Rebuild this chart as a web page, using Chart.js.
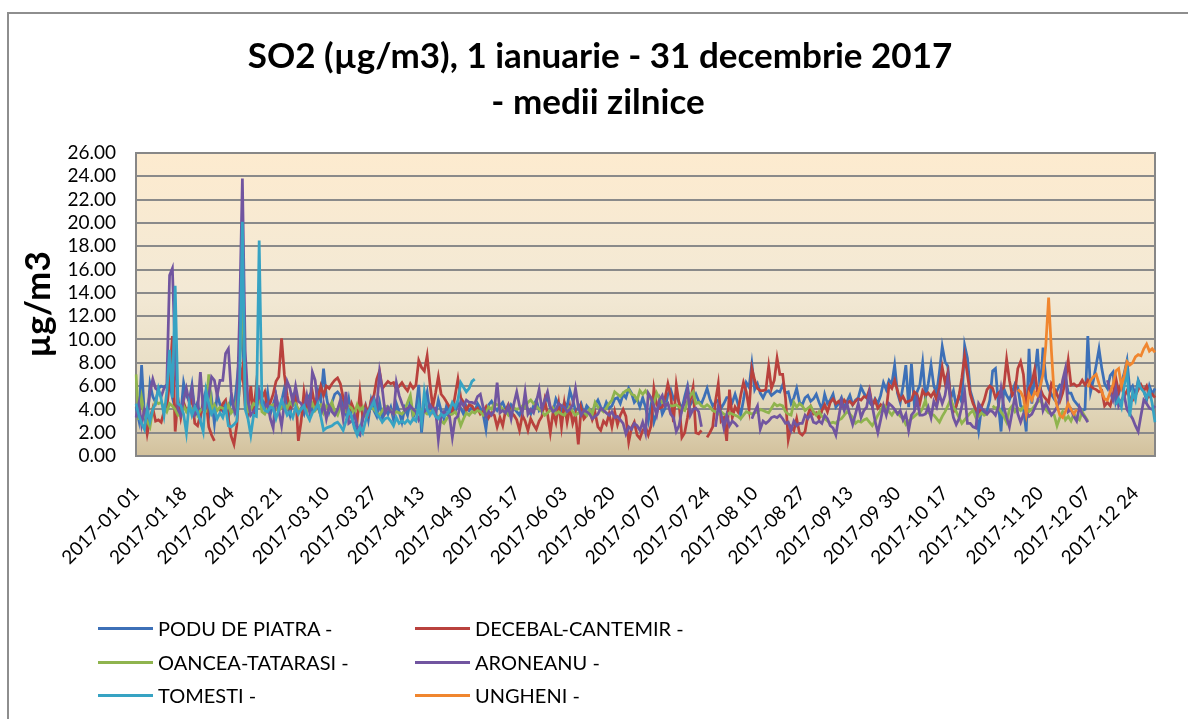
<!DOCTYPE html>
<html>
<head>
<meta charset="utf-8">
<script src="https://cdn.jsdelivr.net/npm/chart.js@4.4.1/dist/chart.umd.min.js"></script>
<style>
  html, body { margin: 0; padding: 0; background: #fff; overflow: hidden; }
  body { width: 1188px; height: 719px; position: relative; font-family: Lato, sans-serif; }
  #page { position: absolute; left: 0; top: 0; width: 1188px; height: 719px; overflow: hidden; }
  #frame { position: absolute; left: 7px; top: 12px; width: 1250px; height: 780px; border: 2px solid #8e8e8e; box-sizing: border-box; }
  #wrap { position: absolute; left: 0; top: 0; width: 1188px; height: 719px; }
  .item { position: absolute; height: 26px; line-height: 26px; display: flex; align-items: center; font-size: 20px; color: #000; white-space: nowrap; }
  .swatch { display: inline-block; width: 55px; height: 3px; margin-right: 5px; }
</style>
</head>
<body>
<div id="page">
  <div id="frame"></div>
  <div id="wrap"><canvas id="chart" width="1188" height="719"></canvas></div>
  <div id="legend"></div>
</div>
<script>
// SO2 daily means 2017 (µg/m3)
const _ = null;
const gap = n => new Array(n).fill(null);

// categories: every day of 2017, formatted like the source ("2017-01 01")
const dates = [];
for (let d = new Date(Date.UTC(2017, 0, 1)); d.getUTCFullYear() === 2017; d.setUTCDate(d.getUTCDate() + 1)) {
  const m = String(d.getUTCMonth() + 1).padStart(2, '0');
  const day = String(d.getUTCDate()).padStart(2, '0');
  dates.push(`2017-${m} ${day}`);
}
const labelEvery = 17;
const yTicks = { min: 0, max: 26, step: 2 };
const titleLines = ['SO2 (µg/m3), 1 ianuarie - 31 decembrie 2017', '- medii zilnice'];

const poduDePiatra = [
  4.2,3.1,7.8,3.5,2.9,6.2,5.1,4.6,5.8,6.0,5.9,6.1,6.3,5.0,4.1,3.8,3.5,6.3,5.2,4.7,6.1,3.9,4.6,3.2,4.8,5.6,3.4,4.9,2.8,5.3,4.4,
  3.9,4.5,3.2,5.1,4.0,6.2,8.8,10.5,5.2,3.4,4.1,4.6,3.8,5.6,4.9,4.2,5.5,3.6,4.4,5.2,3.9,4.7,5.8,4.3,3.5,5.1,4.6,3.7,
  4.1,3.6,4.8,5.2,3.9,4.4,5.6,4.7,7.5,5.1,3.8,4.6,5.3,5.5,5.2,4.2,3.6,4.9,3.3,2.7,2.0,1.8,3.5,4.3,3.1,4.8,3.9,3.4,4.6,3.2,4.0,
  3.6,4.2,3.1,4.5,3.8,2.9,4.1,3.5,4.7,3.3,4.0,6.1,2.0,4.6,5.5,3.7,4.3,3.5,4.8,3.9,3.2,4.4,3.6,4.0,3.8,4.5,4.1,3.6,4.3,3.9,
  4.2,3.8,4.5,4.1,3.6,2.3,4.4,4.7,4.2,3.9,4.3,4.6,4.0,3.7,4.4,4.1,3.8,3.5,4.2,4.5,4.0,3.6,4.3,4.8,3.9,4.2,4.6,5.0,4.1,3.8,4.9,
  4.4,3.8,4.6,4.2,5.6,4.8,3.9,4.1,4.5,3.6,4.3,4.0,3.7,4.4,4.8,4.2,3.9,4.6,4.1,4.3,4.9,5.0,4.5,5.3,5.0,5.8,5.4,4.6,4.9,4.2,
  5.0,4.2,3.0,4.4,2.9,3.7,4.8,3.6,4.1,5.3,5.7,4.9,5.2,4.6,4.0,5.1,6.0,4.4,4.8,5.3,4.7,4.5,5.1,5.8,4.9,4.3,4.6,4.8,4.1,4.5,5.0,
  5.0,4.6,5.3,4.5,3.5,4.8,6.3,5.9,7.9,5.7,6.2,5.4,5.0,5.5,5.6,5.2,5.4,5.6,5.5,6.1,5.4,5.5,4.5,5.0,5.8,4.6,4.4,5.0,5.2,4.7,4.9,
  5.3,4.6,4.0,5.3,4.5,4.8,5.3,4.2,4.5,5.0,4.1,4.7,5.2,4.4,4.8,5.0,5.9,5.4,5.0,4.6,4.3,4.9,4.5,5.2,6.3,5.7,6.5,6.2,7.8,5.4,
  4.6,6.0,7.8,4.2,7.9,4.5,5.5,6.1,8.0,5.0,6.2,7.8,6.0,5.4,7.2,9.4,8.1,7.7,4.9,5.6,4.3,5.2,4.6,9.5,8.4,5.6,4.8,3.8,2.2,4.1,3.6,
  3.9,4.8,7.3,7.5,4.6,2.1,5.8,5.2,4.8,5.5,6.2,5.9,4.3,4.1,2.1,9.2,4.5,6.8,9.2,5.4,9.3,6.6,5.8,5.3,4.9,5.6,6.1,6.0,6.8,5.4,
  5.4,4.8,4.5,4.2,3.9,4.0,10.3,5.5,6.5,7.8,9.2,7.5,6.2,5.8,6.9,7.2,4.6,5.3,6.3,7.1,8.2,5.6,6.0,5.2,6.5,5.9,5.6,4.8,6.0,5.3,5.8
];

const decebalCantemir = [
  4.3,3.9,4.5,3.6,1.9,3.2,4.1,3.0,3.1,2.9,3.8,4.0,6.5,10.3,2.1,4.9,3.3,4.6,3.9,4.2,5.1,2.8,2.6,3.5,4.4,4.9,2.5,1.8,1.3,_,3.8,
  4.5,4.8,3.2,1.7,1.0,2.6,6.2,7.5,4.3,3.5,6.0,3.6,6.1,4.8,5.0,5.5,4.0,4.6,5.3,6.4,6.8,10.1,7.0,5.2,4.0,4.7,5.5,1.3,
  3.0,5.5,4.0,4.5,5.5,4.2,5.0,6.0,5.2,6.0,5.8,6.2,6.5,6.7,6.2,5.0,4.1,3.5,4.5,3.9,3.0,5.5,3.3,4.3,3.6,4.8,5.2,6.6,7.3,5.8,6.1,
  6.4,6.2,6.3,5.7,6.0,6.3,5.9,5.6,6.2,5.8,6.1,8.2,7.6,7.3,8.6,6.2,4.2,5.4,6.8,5.3,5.0,4.6,4.2,3.8,5.2,6.6,5.0,4.6,3.9,4.4,
  4.3,3.9,4.1,3.6,3.8,4.2,3.3,3.7,3.5,2.5,3.3,2.6,3.9,4.4,3.7,3.5,3.1,2.2,3.5,3.0,2.2,3.2,2.7,2.3,3.0,3.4,4.8,3.6,2.0,3.8,2.9,
  4.5,2.5,4.5,2.9,4.2,2.8,3.6,1.0,4.1,3.2,3.5,3.9,3.1,3.7,2.5,2.2,3.0,2.7,3.6,2.5,3.8,2.7,3.5,4.0,3.4,1.2,2.4,2.9,1.8,1.5,
  2.2,2.5,1.8,2.6,5.8,4.4,4.1,4.2,5.0,6.2,5.2,2.9,6.1,4.5,1.6,2.0,3.3,4.8,5.9,2.0,1.9,2.2,_,1.6,2.0,2.5,4.7,6.2,3.0,3.3,1.3,
  5.7,3.3,4.2,3.8,5.2,6.3,5.5,4.0,7.5,6.5,5.8,5.6,5.6,5.7,7.7,5.8,6.5,8.4,7.0,7.0,5.0,1.4,2.5,2.2,3.2,2.0,1.8,2.1,3.5,4.2,3.6,
  3.7,3.2,3.9,4.4,3.8,4.6,4.9,4.5,4.7,4.3,4.8,4.5,4.7,4.4,4.7,4.9,4.8,5.1,5.0,5.7,4.3,4.8,4.1,4.4,4.1,3.9,6.1,5.8,6.5,5.6,
  4.8,5.1,4.6,4.7,4.8,5.5,5.3,4.5,5.6,5.2,5.4,5.1,5.5,4.8,5.9,7.6,6.3,7.2,5.0,3.8,4.3,5.2,6.7,8.6,7.0,5.3,4.5,4.0,3.6,4.2,4.8,
  5.7,6.0,5.8,5.0,5.4,5.6,5.9,8.3,6.5,5.2,5.5,7.5,8.1,7.0,4.0,5.8,6.3,7.4,5.5,5.8,5.2,4.9,4.6,6.2,5.8,5.3,4.7,5.4,6.4,8.2,
  6.1,6.2,6.0,6.1,6.5,6.1,6.5,6.0,5.8,5.7,5.5,5.6,4.3,4.6,4.3,5.2,6.7,5.5,6.2,5.1,5.6,5.0,4.8,5.2,5.7,6.1,5.6,6.0,5.1,5.3,5.0
];

const onceaTatarasi = [
  7.0,3.1,5.0,3.5,3.0,2.5,4.0,4.7,4.5,4.6,4.2,3.8,4.5,4.3,4.0,3.5,3.7,4.3,3.8,4.2,4.0,4.2,3.5,3.9,4.1,3.9,7.0,3.9,4.4,3.9,4.2,
  4.1,3.9,4.4,3.7,4.0,4.8,7.5,14.2,6.0,3.8,4.0,4.5,4.3,5.2,3.8,3.6,4.1,4.3,4.4,4.0,3.9,4.2,4.5,4.1,4.6,4.3,4.5,4.0,
  4.0,4.3,3.8,4.1,4.5,3.9,4.2,4.4,3.7,4.3,4.0,4.6,3.8,3.5,4.2,4.0,3.8,4.3,4.1,3.6,4.4,3.9,4.2,3.5,3.8,4.2,4.0,3.7,3.5,3.9,4.3,
  4.2,3.9,3.6,3.8,3.7,3.6,3.9,4.6,5.2,3.5,3.9,3.7,4.0,3.8,3.6,3.8,3.9,3.5,3.4,3.0,2.8,3.2,3.5,3.6,3.8,3.4,2.6,3.2,3.7,3.5,
  3.8,3.7,3.9,3.8,3.5,3.7,4.2,4.0,4.5,4.4,4.3,4.0,3.8,3.5,3.9,4.1,4.0,4.1,4.3,4.2,4.6,4.8,4.5,4.3,4.0,3.8,3.5,3.7,3.9,4.1,3.6,
  3.8,3.6,3.5,3.9,4.2,3.8,3.5,3.7,3.6,3.8,3.5,4.0,3.6,4.6,4.2,4.0,3.8,4.1,4.5,4.8,5.5,5.3,5.1,5.4,5.6,5.7,5.3,5.2,4.8,5.6,
  5.3,5.6,5.2,4.8,4.5,5.4,4.9,4.6,4.5,4.4,4.3,4.3,4.4,4.2,4.0,3.9,4.7,5.2,5.5,4.5,4.6,4.3,4.2,4.4,4.2,3.9,3.8,3.6,3.8,3.6,3.5,
  3.7,3.6,3.5,3.4,3.2,3.5,3.8,3.7,3.6,3.7,3.8,4.0,3.9,3.8,3.7,4.1,4.5,4.3,4.4,4.3,3.8,3.6,3.5,4.6,4.2,4.5,4.3,3.9,4.1,4.3,3.8,
  3.5,3.8,3.4,3.2,3.0,2.8,2.9,2.8,3.1,3.2,3.5,3.8,3.6,3.3,2.8,3.0,2.9,3.1,3.2,2.9,2.6,3.0,3.5,3.9,4.4,4.2,3.8,3.5,3.9,3.7,
  3.4,3.2,2.7,3.0,3.2,3.4,3.6,3.7,4.1,4.8,3.7,3.6,3.5,3.2,2.9,3.4,3.8,4.3,4.9,4.2,3.8,3.3,2.8,3.1,3.4,3.7,3.9,3.3,3.4,3.7,3.5,
  3.6,_,4.3,4.1,4.2,3.8,3.4,2.9,4.0,4.3,3.8,4.1,3.9,4.2,4.0,3.8,4.0,4.3,4.6,4.8,4.4,4.0,3.7,3.6,3.5,2.6,3.3,3.8,3.1,3.4,
  3.0,3.6,3.3,3.1,3.8,3.4,3.0, ...gap(24)
];

const aroneanu = [
  3.3,4.5,2.7,4.0,3.5,5.5,6.6,5.8,5.6,5.1,5.8,6.1,15.5,16.1,8.5,4.0,3.5,4.8,5.8,4.6,5.8,3.5,3.8,7.2,4.0,4.1,5.2,6.8,6.5,5.2,6.5,
  6.5,8.8,9.2,5.5,4.0,3.5,12.0,23.8,9.0,4.7,3.5,3.8,4.2,5.5,4.5,4.2,4.5,3.2,2.4,5.2,3.9,2.6,4.5,6.4,5.8,4.6,6.0,4.7,
  4.5,4.0,5.2,3.8,7.2,6.5,4.2,3.5,4.5,3.2,4.3,3.8,3.5,4.0,4.8,3.2,5.5,2.8,3.0,3.5,2.6,2.0,3.1,4.0,3.6,4.5,5.0,4.2,7.2,5.7,3.7,
  4.2,3.8,3.6,6.3,5.2,4.5,3.9,4.1,4.3,4.0,3.8,3.1,3.6,3.8,4.0,4.4,4.0,4.1,1.4,3.5,3.8,3.6,3.4,1.6,3.2,3.4,4.7,4.3,4.8,4.6,
  4.6,4.5,5.1,5.3,4.2,3.4,3.8,3.5,3.9,6.3,3.7,3.9,3.7,4.3,3.2,4.5,5.5,4.3,3.7,5.5,3.6,4.0,3.7,4.6,5.7,4.0,4.8,5.5,4.2,3.8,4.0,
  4.5,4.3,4.2,3.8,4.0,4.4,5.8,4.2,3.5,3.9,3.8,3.6,3.2,3.4,3.6,4.1,3.9,3.7,3.5,3.8,3.3,3.4,3.1,2.8,1.9,2.5,2.3,2.8,2.6,2.2,
  2.9,2.0,5.4,5.0,4.3,3.5,4.8,5.2,4.3,4.5,3.6,3.3,2.1,2.6,4.0,4.6,5.7,3.5,4.0,4.1,3.8,2.5,_,_,_,_,2.5,4.3,3.6,2.4,3.5,
  2.6,3.0,2.8,2.5,_,_,_,_,3.2,3.8,4.3,2.3,3.0,2.8,3.0,3.3,3.4,3.3,3.5,3.2,2.8,2.9,2.2,3.0,2.6,2.8,2.8,3.5,3.2,3.6,2.9,
  2.8,3.0,2.8,3.5,3.2,2.6,2.4,1.8,3.3,4.7,3.9,4.5,3.5,2.7,3.6,4.5,3.3,3.9,4.2,5.5,4.3,3.0,2.0,3.1,4.3,3.5,4.5,4.3,4.0,3.6,
  3.9,3.1,3.6,2.2,3.5,3.8,4.8,3.5,3.5,3.6,4.2,3.3,4.7,4.2,5.3,4.5,5.2,6.7,4.5,3.3,2.7,3.2,4.3,5.5,2.8,2.8,2.5,2.4,4.5,4.1,3.9,
  3.6,3.9,3.8,3.5,4.2,5.8,4.2,3.3,2.5,3.8,5.2,3.6,2.9,3.6,3.8,3.4,3.6,4.1,4.7,5.6,3.9,4.5,4.0,3.5,3.8,4.2,5.0,6.5,7.5,3.8,
  4.0,3.4,3.0,4.2,3.6,3.3,2.9,_,_,_,_,_,_,6.5,5.5,4.8,5.8,4.3,4.8,5.2,4.0,3.6,3.2,2.6,2.1,3.5,4.8,4.5,4.1,4.0,4.3
];

const tomesti = [
  4.5,3.5,2.8,2.3,4.0,3.0,4.0,4.5,5.8,4.9,3.5,5.5,9.1,5.0,14.6,4.5,4.3,3.6,2.0,4.5,3.5,4.2,3.8,3.0,2.1,5.6,4.5,3.6,4.0,3.2,3.7,
  3.3,4.2,2.6,2.5,2.7,3.0,6.0,20.1,4.0,3.2,1.8,3.5,3.4,18.5,4.5,3.9,3.8,4.2,4.1,3.2,4.0,4.8,4.2,3.5,3.8,3.3,4.2,3.6,
  4.0,4.3,3.6,3.1,3.7,4.0,4.5,3.4,2.2,2.4,2.5,2.6,2.8,2.9,2.6,2.2,3.0,3.9,3.4,2.4,1.8,2.5,2.0,3.0,3.8,4.2,4.7,3.6,3.3,2.9,3.2,
  3.3,3.0,2.6,3.3,2.8,3.0,2.8,3.1,2.8,3.2,3.0,4.4,2.9,5.5,4.0,3.5,3.9,3.4,3.2,3.6,3.4,3.6,3.9,4.6,4.2,4.8,6.3,5.9,5.5,5.8,
  6.4,6.6, ...gap(29),
  ...gap(183),
  ...gap(16), 4.4,4.9,4.2,6.0,7.5,3.4,5.5,4.8,6.4,5.8,5.5,5.0,5.6,4.5,2.9
];

const ungheni = [
  ...gap(315),
  5.7,5.5,5.0,3.6,5.3,4.8,5.5,5.2,6.0,7.0,9.5,13.6,9.0,5.2,4.3,3.5,3.3,3.8,4.5,
  4.0,3.6,4.0,_,_,_,5.9,6.5,6.8,7.0,6.2,5.5,4.9,4.8,5.5,6.1,7.3,7.5,6.0,6.9,8.1,7.8,8.0,8.5,8.7,8.6,9.2,9.6,9.0,9.2,8.9
];

const seriesNames = ['PODU DE PIATRA -', 'DECEBAL-CANTEMIR -', 'OANCEA-TATARASI -', 'ARONEANU -', 'TOMESTI -', 'UNGHENI -'];
const seriesData = [poduDePiatra, decebalCantemir, onceaTatarasi, aroneanu, tomesti, ungheni];
const seriesColors = ['#3d70b7', '#b9413d', '#8fb44e', '#7155a0', '#37a3c3', '#f0862f'];

// plot area background (gradient), border and the two-line title
const plotArea = {
  id: 'plotArea',
  beforeDraw(chart) {
    const { ctx, chartArea: a } = chart;
    const g = ctx.createLinearGradient(0, a.top, 0, a.bottom);
    g.addColorStop(0, '#fdebcf');
    g.addColorStop(0.45, '#f3e9d5');
    g.addColorStop(0.75, '#e7ddc4');
    g.addColorStop(0.9, '#ddd0b1');
    g.addColorStop(1, '#d2c19c');
    ctx.save();
    ctx.fillStyle = g;
    ctx.fillRect(a.left, a.top, a.right - a.left, a.bottom - a.top);
    ctx.restore();
  },
  beforeDatasetsDraw(chart) {
    const { ctx, chartArea: a } = chart;
    ctx.save();
    ctx.strokeStyle = '#878787';
    ctx.lineWidth = 2;
    ctx.strokeRect(a.left, a.top, a.right - a.left, a.bottom - a.top);
    ctx.restore();
  },
  afterDraw(chart) {
    const ctx = chart.ctx;
    ctx.save();
    ctx.fillStyle = '#000';
    ctx.font = 'bold 35px Lato';
    ctx.textAlign = 'center';
    ctx.textBaseline = 'middle';
    ctx.fillText(titleLines[0], 600, 57);
    ctx.fillText(titleLines[1], 598, 103);
    ctx.restore();
  }
};

new Chart(document.getElementById('chart'), {
  type: 'line',
  data: {
    labels: dates,
    datasets: seriesNames.map((name, i) => ({
      label: name,
      data: seriesData[i],
      borderColor: seriesColors[i],
      backgroundColor: seriesColors[i],
      borderWidth: 2.75,
      pointRadius: 0,
      tension: 0,
      spanGaps: false,
      fill: false,
      order: seriesNames.length - i
    }))
  },
  options: {
    responsive: false,
    animation: false,
    layout: { padding: { left: 0, right: 33, top: 153, bottom: 0 } },
    plugins: {
      legend: { display: false },
      tooltip: { enabled: false },
      title: { display: false }
    },
    scales: {
      x: {
        offset: false,
        grid: { display: false, drawTicks: false },
        border: { color: '#878787', width: 2 },
        ticks: {
          autoSkip: false,
          minRotation: 45,
          maxRotation: 45,
          padding: 26,
          color: '#000',
          font: { family: 'Lato', size: 19 },
          callback(v, i) { return i % labelEvery === 0 ? this.getLabelForValue(v) : null; }
        },
        afterFit(s) { s.height = 263; }
      },
      y: {
        min: yTicks.min,
        max: yTicks.max,
        grid: { color: '#8a8a8a', lineWidth: 2, drawTicks: false },
        border: { color: '#878787', width: 2 },
        ticks: {
          stepSize: yTicks.step,
          autoSkip: false,
          padding: 20,
          color: '#000',
          font: { family: 'Lato', size: 19 },
          callback: v => v.toFixed(2)
        },
        title: {
          display: true,
          text: 'µg/m3',
          color: '#000',
          font: { family: 'Lato', size: 35, weight: 'bold' },
          padding: { top: 18, bottom: 0 }
        },
        afterFit(s) { s.width = 136; }
      }
    }
  },
  plugins: [plotArea]
});

// two-column legend like the source
const legend = document.getElementById('legend');
const colX = [98, 415], rowY = [628, 662, 695];
seriesNames.forEach((name, i) => {
  const el = document.createElement('div');
  el.className = 'item';
  el.style.left = colX[i % 2] + 'px';
  el.style.top = (rowY[Math.floor(i / 2)] - 13) + 'px';
  el.innerHTML = `<span class="swatch" style="background:${seriesColors[i]}"></span>${name}`;
  legend.appendChild(el);
});
</script>
</body>
</html>
